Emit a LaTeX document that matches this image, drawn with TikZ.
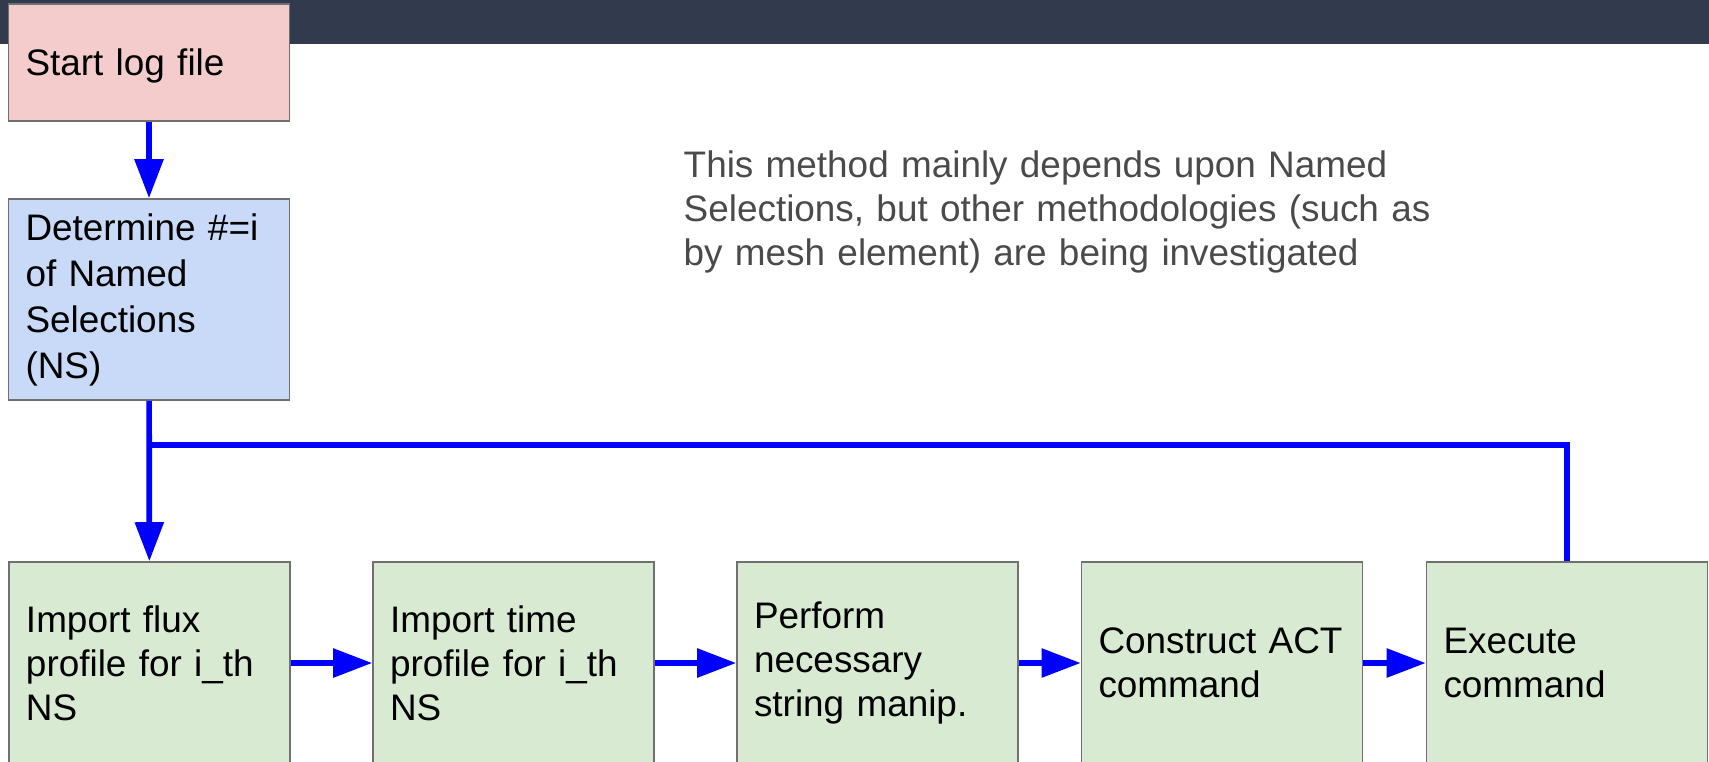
\documentclass[tikz,border=0pt]{standalone}
\usepackage{fontspec}
\setmainfont{Liberation Sans}
\usepackage{xcolor}
\usepackage{tikz}
\usetikzlibrary{arrows.meta}
\definecolor{barnavy}{RGB}{50, 58, 77}
\definecolor{startred}{RGB}{244, 204, 204}
\definecolor{stepblue}{RGB}{201, 218, 248}
\definecolor{stepgreen}{RGB}{217, 234, 211}
\definecolor{edgegray}{RGB}{112, 112, 112}
\definecolor{notegray}{RGB}{74, 74, 74}
\definecolor{flowblue}{RGB}{0, 0, 255}

\tikzset{
    stepbox/.style={draw=edgegray, line width=0.45pt, rectangle, minimum width=2.81cm,
        text width=2.47cm, inner xsep=0.17cm, align=left,
        font=\fontsize{10.5}{12.5}\selectfont},
    flowline/.style={draw=flowblue, line width=1.6pt},
    flowarrow/.style={flowline, -{Triangle[length=0.39cm, width=0.28cm]}}
}

\begin{document}
\begin{tikzpicture}
    \useasboundingbox (0,0) rectangle (17.09,-7.61);
    \fill[barnavy] (0,0) rectangle (17.09,-0.44);

    % setup steps
    \node[stepbox, fill=startred, minimum height=1.17cm, text depth=0pt] (start) at (1.49,-0.625) {Start log file};
    \node[stepbox, fill=stepblue, minimum height=2.01cm, font=\fontsize{10.5}{13.1}\selectfont] (count) at (1.49,-2.995) {Determine \#=i\\ of Named\\ Selections\\ (NS)};

    % loop over named selections
    \node[stepbox, fill=stepgreen, minimum height=2.02cm] (flux) at (1.495,-6.63) {Import flux\\ profile for i\_th\\ NS};
    \node[stepbox, fill=stepgreen, minimum height=2.02cm] (time) at (5.135,-6.63) {Import time\\ profile for i\_th\\ NS};
    \node[stepbox, fill=stepgreen, minimum height=2.02cm] (manip) at (8.775,-6.63) {Perform\\ necessary\\ string manip.};
    \node[stepbox, fill=stepgreen, minimum height=2.02cm] (act) at (12.22,-6.63) {Construct ACT\\ command};
    \node[stepbox, fill=stepgreen, minimum height=2.02cm] (exec) at (15.67,-6.63) {Execute\\ command};

    \node[text width=7.9cm, align=left, anchor=west, inner sep=0pt, text=notegray,
        font=\fontsize{10.5}{12.4}\selectfont] (note) at (6.83,-2.12)
        {This method mainly depends upon Named\\ Selections, but other methodologies (such as\\ by mesh element) are being investigated};

    \coordinate (junc) at (1.49,-4.45);

    \draw[flowarrow] (start) -- (count);
    \draw[flowarrow] (count) -- (flux);
    \draw[flowarrow] (flux) -- (time);
    \draw[flowarrow] (time) -- (manip);
    \draw[flowarrow] (manip) -- (act);
    \draw[flowarrow] (act) -- (exec);
    \draw[flowline] (exec.north) |- (junc);
\end{tikzpicture}
\end{document}
